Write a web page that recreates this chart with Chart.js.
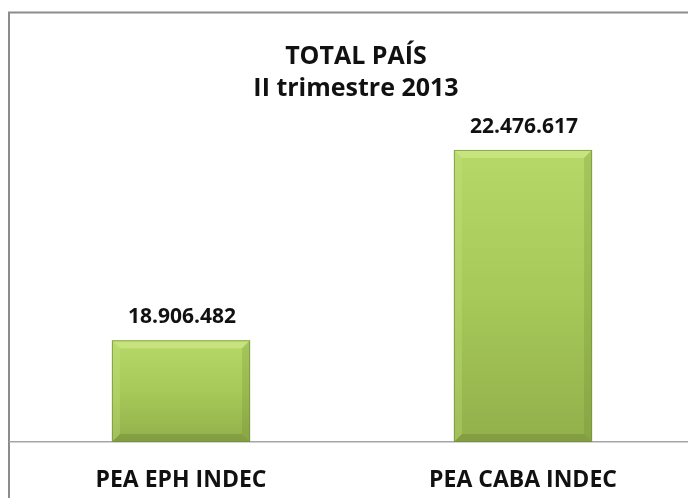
<!DOCTYPE html>
<html>
<head>
<meta charset="utf-8">
<script src="https://cdn.jsdelivr.net/npm/chart.js@4/dist/chart.umd.min.js"></script>
<style>
  html, body { margin: 0; padding: 0; background: #ffffff; overflow: hidden; }
  #wrap { position: absolute; left: 0; top: 0; width: 700px; height: 498px; }
</style>
</head>
<body>
<div id="wrap"><canvas id="c" width="700" height="498"></canvas></div>
<script>
const categories = ['PEA EPH INDEC', 'PEA CABA INDEC'];
const values = [18906482, 22476617];
const titleLines = ['TOTAL PAÍS', 'II trimestre 2013'];
const axisMin = 17000000;
const axisMax = 23000000;

const FONT = "'Open Sans', 'Noto Sans', sans-serif";

function fmt(v) {
  return String(v).replace(/\B(?=(\d{3})+(?!\d))/g, '.');
}

const framePlugin = {
  id: 'frame',
  afterLayout(chart) {
    const tb = chart.titleBlock;
    if (tb) { tb.left += 4; tb.right += 4; }
  },
  beforeDraw(chart) {
    const ctx = chart.ctx;
    ctx.save();
    ctx.fillStyle = '#ffffff';
    ctx.fillRect(0, 0, chart.width, chart.height);
    ctx.strokeStyle = '#8c8c8c';
    ctx.lineWidth = 2;
    ctx.beginPath();
    ctx.moveTo(9, chart.height + 5);
    ctx.lineTo(9, 12.5);
    ctx.lineTo(chart.width + 5, 12.5);
    ctx.stroke();
    ctx.restore();
  }
};

const bevelPlugin = {
  id: 'bevel',
  afterDatasetsDraw(chart) {
    const ctx = chart.ctx;
    const meta = chart.getDatasetMeta(0);
    const area = chart.chartArea;
    ctx.save();
    meta.data.forEach((bar) => {
      const p = bar.getProps(['x', 'y', 'base', 'width'], true);
      const l = p.x - p.width / 2, r = p.x + p.width / 2, t = p.y;
      const b = Math.min(p.base, area.bottom);
      const d = 8;
      ctx.fillStyle = 'rgba(215,240,150,0.5)';
      ctx.beginPath();
      ctx.moveTo(l, t); ctx.lineTo(r, t); ctx.lineTo(r - d, t + d); ctx.lineTo(l + d, t + d); ctx.closePath();
      ctx.fill();
      ctx.fillStyle = 'rgba(200,230,130,0.3)';
      ctx.beginPath();
      ctx.moveTo(l, t); ctx.lineTo(l + d, t + d); ctx.lineTo(l + d, b - d); ctx.lineTo(l, b); ctx.closePath();
      ctx.fill();
      ctx.fillStyle = 'rgba(90,115,40,0.18)';
      ctx.beginPath();
      ctx.moveTo(r, t); ctx.lineTo(r - d, t + d); ctx.lineTo(r - d, b - d); ctx.lineTo(r, b); ctx.closePath();
      ctx.fill();
      ctx.fillStyle = 'rgba(80,105,35,0.25)';
      ctx.beginPath();
      ctx.moveTo(l, b); ctx.lineTo(r, b); ctx.lineTo(r - d, b - d); ctx.lineTo(l + d, b - d); ctx.closePath();
      ctx.fill();
      ctx.strokeStyle = 'rgba(115,145,60,0.75)';
      ctx.lineWidth = 1;
      ctx.strokeRect(l + 0.5, t + 0.5, p.width - 1, b - t - 1);
    });
    ctx.restore();
  },
  afterDraw(chart) {
    const ctx = chart.ctx;
    const meta = chart.getDatasetMeta(0);
    ctx.save();
    ctx.fillStyle = '#111111';
    ctx.font = "bold 21px " + FONT;
    ctx.textAlign = 'center';
    ctx.textBaseline = 'middle';
    meta.data.forEach((bar, i) => {
      const p = bar.getProps(['x', 'y'], true);
      ctx.fillText(fmt(values[i]), p.x + 1, p.y - 23);
    });
    ctx.restore();
  }
};

function barGradient(context) {
  const chart = context.chart;
  const area = chart.chartArea;
  if (!area || context.dataIndex === undefined) return '#a5c858';
  const y = chart.scales.y.getPixelForValue(values[context.dataIndex]);
  const base = area.bottom;
  const g = chart.ctx.createLinearGradient(0, y, 0, base);
  g.addColorStop(0, '#b6d868');
  g.addColorStop(0.5, '#a6c959');
  g.addColorStop(1, '#93b04b');
  return g;
}

new Chart(document.getElementById('c'), {
  type: 'bar',
  data: {
    labels: categories,
    datasets: [{
      data: values,
      backgroundColor: barGradient,
      borderWidth: 0,
      categoryPercentage: 1.0,
      barPercentage: 0.404
    }]
  },
  options: {
    responsive: false,
    animation: false,
    devicePixelRatio: 1,
    layout: { padding: { left: 10, right: 6, top: 0, bottom: 0 } },
    plugins: {
      legend: { display: false },
      tooltip: { enabled: false },
      title: {
        display: true,
        text: titleLines,
        color: '#111111',
        font: { family: FONT, size: 25, weight: 'bold', lineHeight: 1.28 },
        padding: { top: 41, bottom: 17 }
      }
    },
    scales: {
      x: {
        grid: { display: false, drawTicks: false },
        border: { display: true, color: '#a6a6a6', width: 1.5 },
        ticks: {
          color: '#111111',
          font: { family: FONT, size: 23, weight: 'bold' },
          padding: 25
        },
        afterFit(scale) { scale.height = 56; }
      },
      y: {
        display: false,
        min: axisMin,
        max: axisMax
      }
    }
  },
  plugins: [framePlugin, bevelPlugin]
});
</script>
</body>
</html>
